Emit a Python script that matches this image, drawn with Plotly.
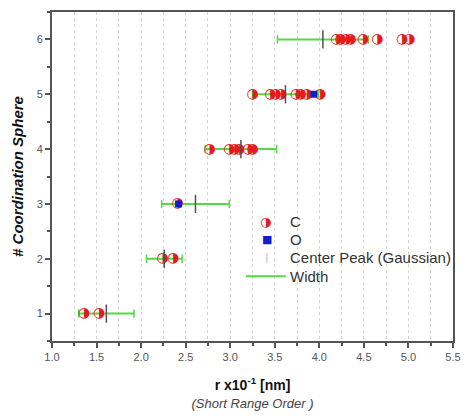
import plotly.graph_objects as go

# ---- data ----
spheres = [1, 2, 3, 4, 5, 6]
c_r = [
    [1.36, 1.53],
    [2.24, 2.36],
    [2.41],
    [2.77, 2.99, 3.05, 3.10, 3.20, 3.25],
    [3.25, 3.45, 3.51, 3.57, 3.74, 3.79, 3.86, 4.01],
    [4.19, 4.24, 4.30, 4.35, 4.49, 4.65, 4.93, 5.01],
]
o_sphere = [3, 5]
o_r = [2.42, 3.94]
center_peak = [1.61, 2.26, 2.61, 3.12, 3.62, 4.04]
half_width = [0.31, 0.20, 0.38, 0.40, 0.37, 0.51]
x_ticks = [1.0, 1.5, 2.0, 2.5, 3.0, 3.5, 4.0, 4.5, 5.0, 5.5]
y_ticks = [1, 2, 3, 4, 5, 6]
legend_labels = ["C", "O", "Center Peak (Gaussian)", "Width"]

GREEN = "#55d944"
RED = "#e41a1c"
BLUE = "#1020c8"
HALF = "\u25d1"  # circle with right half filled

c_x, c_y = [], []
for s, rs in zip(spheres, c_r):
    for r in rs:
        c_x.append(r)
        c_y.append(s)

seg_x, seg_y = [], []
cap_x, cap_y = [], []
for s, c, w in zip(spheres, center_peak, half_width):
    seg_x += [c - w, c + w, None]
    seg_y += [s, s, None]
    cap_x += [c - w, c + w]
    cap_y += [s, s]

fig = go.Figure()

fig.add_trace(go.Scatter(
    x=seg_x, y=seg_y, mode="lines", name="Width", showlegend=False,
    line=dict(color=GREEN, width=2),
))
fig.add_trace(go.Scatter(
    x=cap_x, y=cap_y, mode="markers", showlegend=False, hoverinfo="skip",
    marker=dict(symbol="line-ns", size=6, line=dict(color=GREEN, width=1.5)),
))
fig.add_trace(go.Scatter(
    x=c_x, y=c_y, mode="text", text=[HALF] * len(c_x), name="C",
    showlegend=False, textposition="middle center",
    textfont=dict(family="DejaVu Sans", size=14, color=RED),
))
fig.add_trace(go.Scatter(
    x=o_r, y=o_sphere, mode="markers", name="O", showlegend=False,
    marker=dict(symbol="square", size=7, color=BLUE, line=dict(width=0)),
))
fig.add_trace(go.Scatter(
    x=center_peak, y=spheres, mode="markers", name="Center Peak (Gaussian)",
    showlegend=False,
    marker=dict(symbol="line-ns", size=13, line=dict(color="#505050", width=1.5)),
))

axis_common = dict(
    showline=True, linecolor="#555555", linewidth=2, mirror=True,
    ticks="outside", ticklen=5, tickwidth=1.5, tickcolor="#555555",
    zeroline=False, ticklabeloverflow="allow",
    tickfont=dict(family="Arial, Liberation Sans", size=11, color="#555555"),
)

fig.update_xaxes(
    **axis_common,
    range=[1.0, 5.5], tickvals=x_ticks, ticktext=[f"{v:.1f}" for v in x_ticks],
    showgrid=False,
    minor=dict(dtick=0.25, tick0=1.0, ticks="outside", ticklen=3,
               tickcolor="#555555", showgrid=True, gridcolor="#d4d4d4",
               griddash="dot", gridwidth=1),
    title=dict(
        text="<b>r x10<sup>-1</sup> [nm]</b><br><span style='color:#444444;font-size:13px'><i>(Short Range Order )</i></span>",
        font=dict(family="Arial, Liberation Sans", size=14, color="#111111"),
        standoff=18,
    ),
)
fig.update_yaxes(
    **axis_common,
    range=[0.5, 6.5], tickvals=y_ticks, showgrid=False,
    minor=dict(dtick=0.5, tick0=0.5, ticks="outside", ticklen=3,
               tickcolor="#555555", showgrid=False),
    title=dict(
        text="<b><i># Coordination Sphere</i></b>",
        font=dict(family="Arial, Liberation Sans", size=15, color="#111111"),
        standoff=9,
    ),
)

# ---- hand-built legend (paper coordinates) ----
leg_sym_x = 0.535
leg_txt_x = 0.589
leg_y = [0.364, 0.307, 0.253, 0.197]
leg_font = dict(family="Arial, Liberation Sans", size=15, color="#333333")
annotations = []
for lbl, yy in zip(legend_labels, leg_y):
    annotations.append(dict(xref="paper", yref="paper", x=leg_txt_x, y=yy,
                            text=lbl, showarrow=False, xanchor="left",
                            yanchor="middle", font=leg_font))
annotations.append(dict(xref="paper", yref="paper", x=leg_sym_x - 0.003, y=leg_y[0],
                        text=HALF, showarrow=False, xanchor="center",
                        yanchor="middle",
                        font=dict(family="DejaVu Sans", size=13, color=RED)))
annotations.append(dict(xref="paper", yref="paper", x=leg_sym_x, y=leg_y[1],
                        text="\u25a0", showarrow=False, xanchor="center",
                        yanchor="middle",
                        font=dict(family="DejaVu Sans", size=11, color=BLUE)))
annotations.append(dict(xref="paper", yref="paper", x=leg_sym_x, y=leg_y[2],
                        text="|", showarrow=False, xanchor="center",
                        yanchor="middle",
                        font=dict(family="DejaVu Sans", size=11, color="#c0c0d0")))
shapes = [dict(type="line", xref="paper", yref="paper",
               x0=0.484, x1=0.583, y0=leg_y[3], y1=leg_y[3],
               line=dict(color=GREEN, width=2))]

fig.update_layout(
    width=471, height=419,
    margin=dict(l=52, r=10, t=10, b=77),
    paper_bgcolor="white", plot_bgcolor="white",
    showlegend=False,
    annotations=annotations, shapes=shapes,
)

fig.write_html(
    "out.html",
    config={"displayModeBar": False},
    post_script="document.body.style.margin='0';document.body.style.overflow='hidden';",
)
